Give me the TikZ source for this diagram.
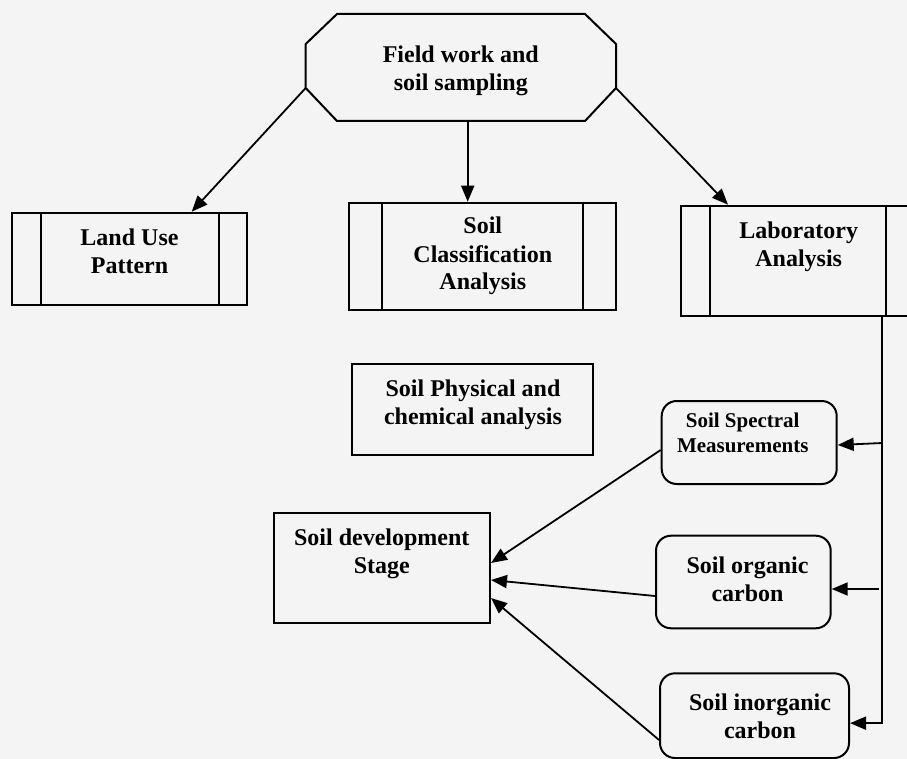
\documentclass[tikz,border=0pt]{standalone}
\usepackage{fontspec}
\setmainfont{Liberation Serif}
\usetikzlibrary{arrows.meta}
\definecolor{bgc}{HTML}{F4F4F4}
\begin{document}
\begin{tikzpicture}[x=1pt,y=-1pt,
  box/.style={draw, line width=2pt, inner sep=0pt},
  rbox/.style={draw, line width=2pt, rounded corners=15pt, inner sep=0pt},
  lbl/.style={font=\bfseries\fontsize{24}{28}\selectfont, align=center, inner sep=0pt, anchor=base},
  slbl/.style={font=\bfseries\fontsize{21}{25.4}\selectfont, align=center, inner sep=0pt, anchor=base},
  arr/.style={line width=1.8pt, -{Triangle[length=16pt,width=13pt]}},
  ln/.style={line width=2pt}
]
\fill[bgc] (0,0) rectangle (907,759);
\useasboundingbox (0,0) rectangle (907,759);
\clip (0,0) rectangle (907,759);

% octagon
\draw[ln] (337,14) -- (585,14) -- (616,44) -- (616,88) -- (585,121) -- (337,121) -- (305.7,88) -- (305.7,44) -- cycle;
\coordinate (octL) at (305.7,88);
\coordinate (octR) at (616,88);
\coordinate (octB) at (467.7,121);
\node[lbl] (oct) at (460.8,90.7) {Field work and\\soil sampling};

% process boxes
\node[box, minimum width=235pt, minimum height=92.6pt] (land) at (129.5,259) {};
\draw[ln] ([xshift=29.7pt]land.north west) -- ([xshift=29.7pt]land.south west);
\draw[ln] ([xshift=-28.7pt]land.north east) -- ([xshift=-28.7pt]land.south east);
\node[lbl] (landt) at (129.5,273.3) {Land Use\\Pattern};

\node[box, minimum width=267pt, minimum height=107.3pt] (cls) at (482.5,256.35) {};
\draw[ln] ([xshift=33.7pt]cls.north west) -- ([xshift=33.7pt]cls.south west);
\draw[ln] ([xshift=-33.7pt]cls.north east) -- ([xshift=-33.7pt]cls.south east);
\node[lbl] (clst) at (482.8,290) {Soil\\Classification\\Analysis};

\node[box, minimum width=248.7pt, minimum height=110pt] (lab) at (805.65,260.7) {};
\draw[ln] ([xshift=29.4pt]lab.north west) -- ([xshift=29.4pt]lab.south west);
\draw[ln] ([xshift=206pt]lab.north west) -- ([xshift=206pt]lab.south west);
\node[lbl] (labt) at (798.7,266.7) {Laboratory\\Analysis};

\node[box, minimum width=240.4pt, minimum height=90.7pt] (phys) at (472.5,409.35) {};
\node[lbl] (physt) at (473,424) {Soil Physical and\\chemical analysis};

\node[box, minimum width=216pt, minimum height=110pt] (dev) at (382,567.7) {};
\node[lbl] (devt) at (381.8,573.3) {Soil development\\Stage};

% rounded boxes
\node[rbox, minimum width=175pt, minimum height=83pt] (spec) at (749.2,442.5) {};
\node[slbl] (spect) at (742.7,452.7) {Soil Spectral\\Measurements};

\node[rbox, minimum width=174.7pt, minimum height=92.6pt] (org) at (743.35,582) {};
\node[lbl] (orgt) at (747.5,601.7) {Soil organic\\carbon};

\node[rbox, minimum width=189pt, minimum height=84.7pt] (inorg) at (754.5,715.65) {};
\node[lbl] (inorgt) at (760,738.3) {Soil inorganic\\carbon};

% top arrows
\draw[arr] (octL) -- ([xshift=62.2pt]land.north);
\draw[arr] (octB) -- (octB |- cls.north);
\draw[arr] (octR) -- ([xshift=-77.65pt]lab.north);

% right bus
\coordinate (vtop) at (882.3,316);
\coordinate (s1) at (882.3,443);
\coordinate (s2) at (879,589);
\draw[arr] (vtop) |- ([yshift=-7.5pt]inorg.east);
\draw[arr] (s1) -- ([yshift=-2.5pt]spec.east);
\draw[arr] (s2) -- ([yshift=-7pt]org.east);

% arrows into development
\draw[arr] ([yshift=-7.5pt]spec.west) -- ([yshift=4.7pt]dev.east);
\draw[arr] ([yshift=-14pt]org.west) -- ([yshift=-12.3pt]dev.east);
\draw[arr] ([yshift=-24.3pt]inorg.west) -- ([yshift=-30.3pt]dev.east);
\end{tikzpicture}
\end{document}
